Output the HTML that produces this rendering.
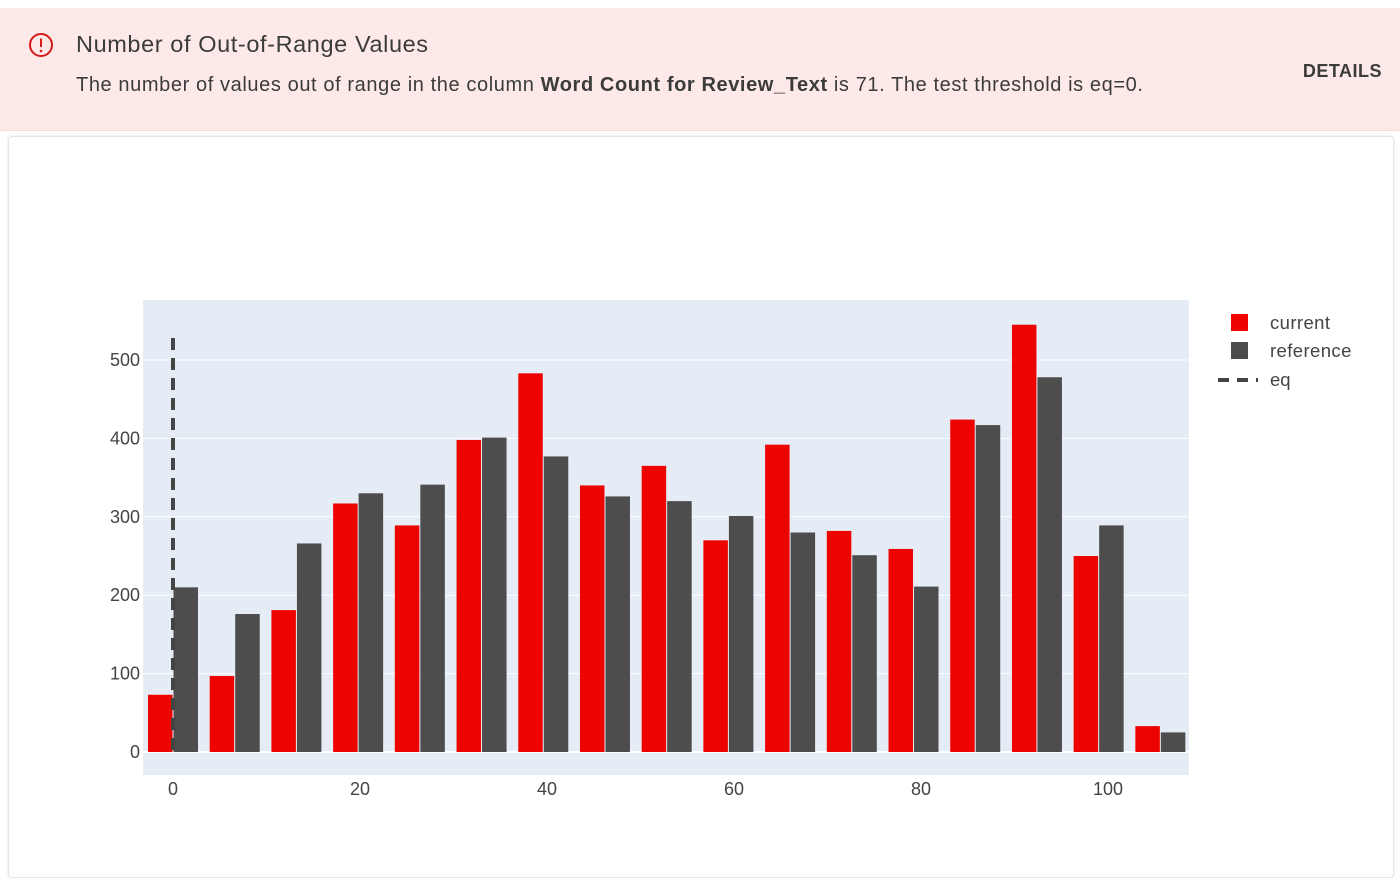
<!DOCTYPE html>
<html><head><meta charset="utf-8"><style>
body{margin:0;width:1400px;height:866px;background:#fff;font-family:"Liberation Sans",sans-serif;overflow:hidden;position:relative}
#banner{position:absolute;left:0;top:8px;width:1400px;height:122px;background:#fdeae8;border-bottom:1px solid #f3dcd9}
#title{position:absolute;left:76px;top:23px;font-size:23.5px;color:#3b3b3b;letter-spacing:0.6px}
#desc{position:absolute;left:76px;top:66px;font-size:20px;color:#3b3b3b;letter-spacing:0.6px}
#details{position:absolute;right:18px;top:53px;font-size:18px;font-weight:bold;color:#3b3b3b;letter-spacing:0.5px}
#icon{position:absolute;left:28px;top:24px}
#card{position:absolute;left:8px;top:136px;width:1384px;height:740px;border:1px solid #e6e6e6;border-radius:4px;box-shadow:0 0 2px #ddd}
svg text{font-family:"Liberation Sans",sans-serif}
</style></head><body>
<div id="banner">
<svg id="icon" width="26" height="26"><circle cx="13" cy="13" r="11" fill="none" stroke="#d61a1a" stroke-width="2"/><line x1="13" y1="6.5" x2="13" y2="15" stroke="#d61a1a" stroke-width="2"/><circle cx="13" cy="19" r="1.3" fill="#d61a1a"/></svg>
<div id="title">Number of Out-of-Range Values</div>
<div id="desc">The number of values out of range in the column <b>Word Count for Review_Text</b> is 71. The test threshold is eq=0.</div>
<div id="details">DETAILS</div>
</div>
<div id="card"></div>
<svg id="chart" width="1400" height="866" style="position:absolute;left:0;top:0"></svg>
<script>
const binCenters=[0,6.6,13.2,19.8,26.4,33,39.6,46.2,52.8,59.4,66,72.6,79.2,85.8,92.4,99,105.6];
const currentValues=[73,97,181,317,289,398,483,340,365,270,392,282,259,424,545,250,33];
const referenceValues=[210,176,266,330,341,401,377,326,320,301,280,251,211,417,478,289,25];
const yTicks=[0,100,200,300,400,500];
const xTicks=[0,20,40,60,80,100];
const eqValue=0;
const NS="http://www.w3.org/2000/svg";
const svg=document.getElementById('chart');
const PL=143,PR=1189,PT=300,PB=775;
const xs=v=>173+v*9.35;
const ys=v=>752-v*0.784;
function mk(t,a){const e=document.createElementNS(NS,t);for(const k in a)e.setAttribute(k,a[k]);svg.appendChild(e);return e;}
const bg=mk('rect',{x:PL,y:PT,width:PR-PL,height:PB-PT,fill:'#e5ecf6'});


yTicks.forEach(t=>{
 const g=mk('line',{x1:PL,x2:PR,y1:ys(t),y2:ys(t),stroke:'#fff','stroke-width':t===0?2:1});
 
 
 const l=mk('text',{x:PL-3,y:ys(t)+6,'text-anchor':'end','font-size':18,fill:'#444'});l.textContent=t;
 
 
});
xTicks.forEach(t=>{
 const l=mk('text',{x:xs(t),y:795,'text-anchor':'middle','font-size':18,fill:'#444'});l.textContent=t;
 
 
});
const w=24.5;
binCenters.forEach((c,i)=>{
 const cx=xs(c);
 const r=mk('rect',{x:cx-w-0.5,y:ys(currentValues[i]),width:w,height:ys(0)-ys(currentValues[i]),fill:'#ed0400'});
 
 
 const g=mk('rect',{x:cx+0.5,y:ys(referenceValues[i]),width:w,height:ys(0)-ys(referenceValues[i]),fill:'#4d4d4d'});
 
 
});
const eq=mk('line',{x1:xs(eqValue),x2:xs(eqValue),y1:338,y2:752,stroke:'#444','stroke-width':4,'stroke-dasharray':'12,8'});


const leg=[['current','#ed0400',323],['reference','#4d4d4d',351]];
leg.forEach(([n,c,y])=>{
 const s=mk('rect',{x:1231,y:y-9,width:17,height:17,fill:c});
 
 
 const t=mk('text',{x:1270,y:y+6,'font-size':18.5,fill:'#444','letter-spacing':0.4});t.textContent=n;
 
 
});
const ll=mk('line',{x1:1218,x2:1258,y1:380,y2:380,stroke:'#444','stroke-width':4,'stroke-dasharray':'11,8'});


const lt=mk('text',{x:1270,y:386,'font-size':18.5,fill:'#444'});lt.textContent='eq';


</script>
</body></html>
